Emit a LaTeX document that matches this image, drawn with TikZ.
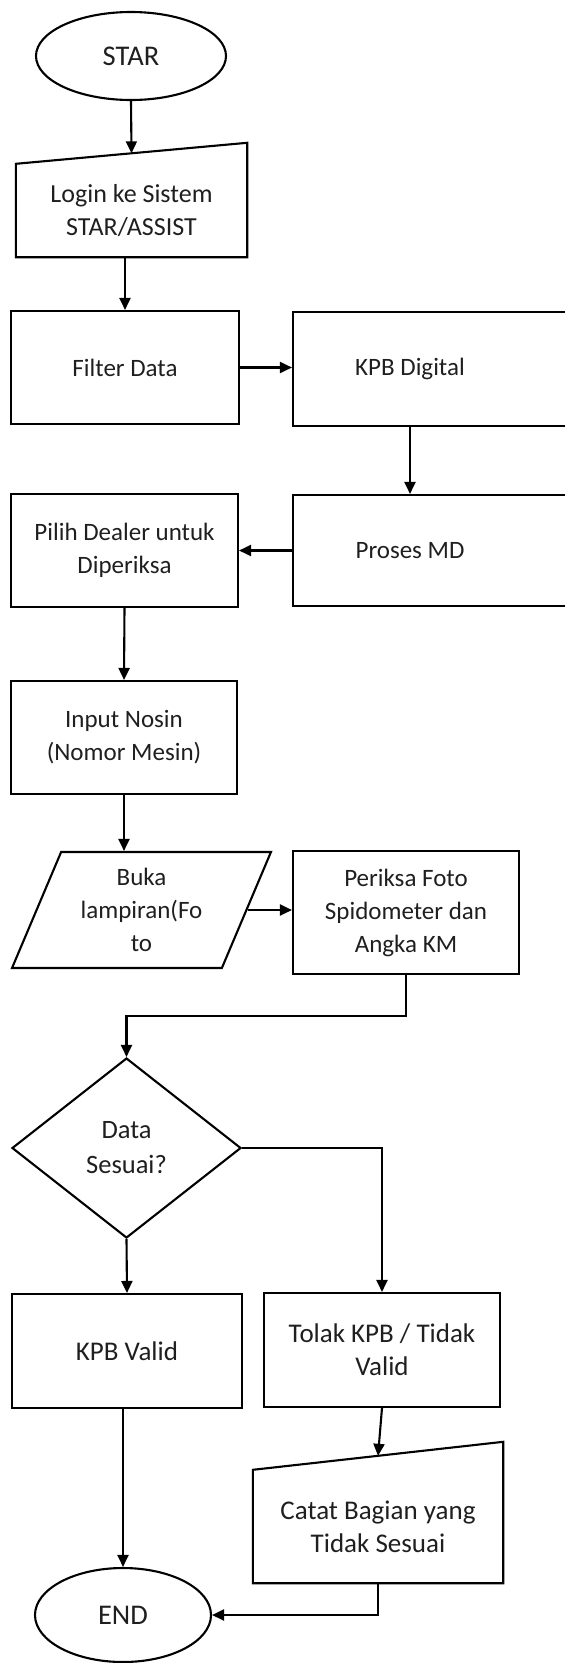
\documentclass[tikz,border=0pt]{standalone}
\usepackage{fontspec}
\setmainfont{Carlito}
\usetikzlibrary{shapes.geometric, calc}
\usetikzlibrary{arrows.meta}
\tikzset{
  txt/.style={align=center, text=black!88, font={\fontsize{25}{33}\selectfont}},
  % somewhat larger type used in some boxes
  large/.style={font={\fontsize{27}{33}\selectfont}},
  huge/.style={font={\fontsize{28.5}{33}\selectfont}},
  base/.style={txt, draw, line width=2.1pt, inner sep=2pt},
  term/.style={base, huge, ellipse},
  proc/.style={base, rectangle, minimum width=228pt, minimum height=113pt},
  % io node style is the slanted data box
  io/.style={base, trapezium, trapezium left angle=66, trapezium right angle=114,
    trapezium stretches=true, minimum width=259pt, minimum height=116pt, inner sep=0pt},
  dec/.style={base, diamond, minimum width=229pt, minimum height=180pt, inner sep=0pt},
  % manual node style only holds the text, the outline is drawn after it
  manual/.style={txt, rectangle, inner sep=2pt},
  outline/.style={draw, line width=2.1pt, line join=miter},
  % -------------------------------------------------
  % Connector line style
  norm/.style={->, draw, line width=2.1pt}
}

\begin{document}
\begin{tikzpicture}[%
    x=1pt, y=-1pt,
    >={Triangle[length=12pt,width=11pt]},
    ]
\useasboundingbox (0,0) rectangle (565,1663);
\clip (0,0) rectangle (565,1663);

% -------------------------------------------------
% Start by placing the nodes
\node [term, minimum width=190pt, minimum height=88pt] (star) at (131,56) {STAR};
\node [manual, font={\fontsize{26}{33}\selectfont}, minimum width=231pt, minimum height=93pt] (login) at (131.5,210.5) {Login ke Sistem\\STAR/ASSIST};
\draw [outline] (login.south west) -- (login.south east) -- ([yshift=21pt]login.north east) -- (login.north west) -- cycle;

\node [proc] (filter_data) at (125,367.5) {Filter Data};
\node [proc, minimum width=310pt, minimum height=114pt,
  label={[txt, name=kpb_digital_txt, xshift=-38pt]center:KPB Digital}] (kpb_digital) at (448,369) {};
\node [proc, minimum width=310pt, minimum height=111pt,
  label={[txt, name=proses_md_txt, xshift=-38pt]center:Proses MD}] (proses_md) at (448,550.5) {};
\node [proc, minimum width=227pt] (pilih_dealer) at (124.5,550.5) {Pilih Dealer untuk\\Diperiksa};
\node [proc, minimum width=226pt] (input_nosin) at (124,737.5) {Input Nosin\\(Nomor Mesin)};
\node [io] (buka_lampiran) at (141.5,910) {Buka\\lampiran(Fo\\to};
\node [proc, minimum width=226pt, minimum height=123pt] (periksa_foto) at (406,912.5) {Periksa Foto\\Spidometer dan\\Angka KM};
\node [dec, font={\fontsize{26.5}{35}\selectfont}] (data_sesuai) at (126.5,1148) {Data\\Sesuai?};
\node [proc, large, minimum width=230pt, minimum height=114pt] (kpb_valid) at (127,1351) {KPB Valid};
\node [proc, large, minimum width=236pt, minimum height=114pt] (tolak_kpb) at (382,1350) {Tolak KPB / Tidak\\Valid};
\node [manual, large, minimum width=250pt, minimum height=113pt] (catat) at (378,1526.5) {Catat Bagian yang\\Tidak Sesuai};
\draw [outline] (catat.south west) -- (catat.south east) -- ([yshift=28pt]catat.north east) -- (catat.north west) -- cycle;
\node [term, minimum width=176pt, minimum height=94pt] (stop) at (123,1615) {END};

% -------------------------------------------------
% Connectors
\draw [norm] (star.south) -- ([yshift=10.5pt]login.north);
\draw [norm] (login.south -| filter_data.north) -- (filter_data.north);
\draw [norm] (filter_data.east) -- (filter_data.east -| kpb_digital.west);
\draw [norm] (kpb_digital.south -| kpb_digital_txt) -- (proses_md.north -| kpb_digital_txt);
\draw [norm] (proses_md.west) -- (pilih_dealer.east);
\draw [norm] (pilih_dealer.south) -- (input_nosin.north);
\draw [norm] (input_nosin.south) -- (input_nosin.south |- buka_lampiran.north);
\draw [norm] (buka_lampiran.east) -- (buka_lampiran.east -| periksa_foto.west);
\draw [norm] (periksa_foto.south) -- ++(0,41) -| (data_sesuai.north);
\draw [norm] (data_sesuai.east) -| (tolak_kpb.north);
\draw [norm] (data_sesuai.south) -- (kpb_valid.north);
\draw [norm] (tolak_kpb.south) -- ([yshift=14pt]catat.north);
\draw [norm] (kpb_valid.south -| stop.north) -- (stop.north);
\draw [norm] (catat.south) |- (stop.east);

\end{tikzpicture}
\end{document}
